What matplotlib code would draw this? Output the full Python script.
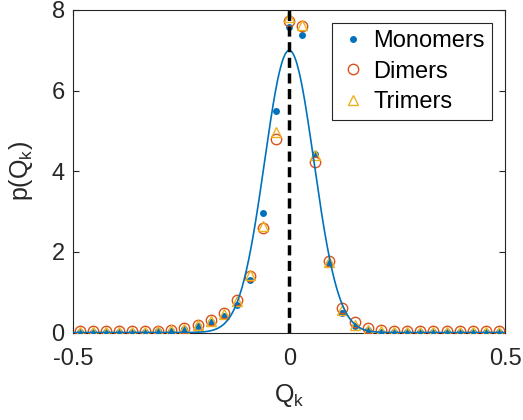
import numpy as np
import matplotlib
matplotlib.use("Agg")
import matplotlib.pyplot as plt

plt.rcParams['font.family'] = ['Liberation Sans', 'DejaVu Sans']

# bin centres k/33, k = -16..16
k_index = np.arange(-16, 17)
q_centres = k_index / 33.0

monomers = [0.02, 0.02, 0.02, 0.02, 0.02, 0.02, 0.03, 0.04, 0.08, 0.16, 0.26,
            0.42, 0.69, 1.31, 2.96, 5.50,
            7.59,
            7.39, 4.42, 1.72, 0.48, 0.16, 0.05, 0.02, 0.02, 0.02, 0.02, 0.02,
            0.02, 0.02, 0.02, 0.02, 0.02]
dimers = [0.03, 0.03, 0.03, 0.03, 0.03, 0.03, 0.04, 0.05, 0.10, 0.19, 0.30,
          0.48, 0.80, 1.41, 2.59, 4.81,
          7.72,
          7.60, 4.24, 1.78, 0.62, 0.26, 0.12, 0.05, 0.03, 0.03, 0.03, 0.03,
          0.03, 0.03, 0.03, 0.03, 0.03]
trimers = [0.02, 0.02, 0.02, 0.02, 0.02, 0.02, 0.03, 0.05, 0.09, 0.18, 0.28,
           0.46, 0.78, 1.42, 2.65, 4.98,
           7.82,
           7.63, 4.40, 1.74, 0.55, 0.19, 0.07, 0.03, 0.02, 0.02, 0.02, 0.02,
           0.02, 0.02, 0.02, 0.02, 0.02]

# Gaussian model curve (normalised), width
fit_sigma = 0.057
fit_mean = 0.0

x_ticks = [-0.5, 0, 0.5]
x_tick_labels = ['-0.5', '0', '0.5']
y_ticks = [0, 2, 4, 6, 8]

c_blue = '#0072BD'
c_orange = '#D95319'
c_yellow = '#EDB120'

fig = plt.figure(figsize=(5.23, 4.20), dpi=100)
ax = fig.add_axes([0.1396, 0.2083, 0.8269, 0.7679])

ax.plot(q_centres, monomers, linestyle='none', marker='o', markersize=5,
        color=c_blue, markeredgewidth=0, label='Monomers', zorder=3)
ax.plot(q_centres, dimers, linestyle='none', marker='o', markersize=7.5,
        markerfacecolor='none', markeredgecolor=c_orange, markeredgewidth=1.0,
        label='Dimers', zorder=3)
ax.plot(q_centres, trimers, linestyle='none', marker='^', markersize=7.5,
        markerfacecolor='none', markeredgecolor=c_yellow, markeredgewidth=1.0,
        label='Trimers', zorder=3)

xx = np.linspace(-0.5, 0.5, 1001)
yy = np.exp(-(xx - fit_mean) ** 2 / (2 * fit_sigma ** 2)) / (fit_sigma * np.sqrt(2 * np.pi))
ax.plot(xx, yy, color=c_blue, linewidth=1.2, zorder=4)

ax.axvline(0, color='black', linewidth=2.5, linestyle=(0, (2.9, 1.6)), zorder=5)

ax.set_xlim(-0.5, 0.5)
ax.set_ylim(0, 8)
ax.set_xticks(x_ticks)
ax.set_xticklabels(x_tick_labels)
ax.set_yticks(y_ticks)

for s in ax.spines.values():
    s.set_color('#262626')
    s.set_linewidth(0.8)
ax.tick_params(direction='in', length=4, width=0.8, colors='#262626',
               labelcolor='#262626', labelsize=17, top=True, right=True)
ax.tick_params(axis='x', pad=11.5)
ax.tick_params(axis='y', pad=6)

ax.set_xlabel(r'Q$_\mathregular{k}$', fontsize=18, color='#262626', labelpad=8)
ax.set_ylabel(r'p(Q$_\mathregular{k}$)', fontsize=18, color='#262626', labelpad=12)

leg = ax.legend(loc='upper right', fontsize=17, frameon=True, fancybox=False,
                edgecolor='#262626', framealpha=1, borderpad=0.3,
                handletextpad=0.24, handlelength=1.22, labelspacing=0.36,
                borderaxespad=0, bbox_to_anchor=(0.9688, 0.9597))
leg.get_frame().set_linewidth(0.8)

fig.savefig('out.png', dpi=100)
